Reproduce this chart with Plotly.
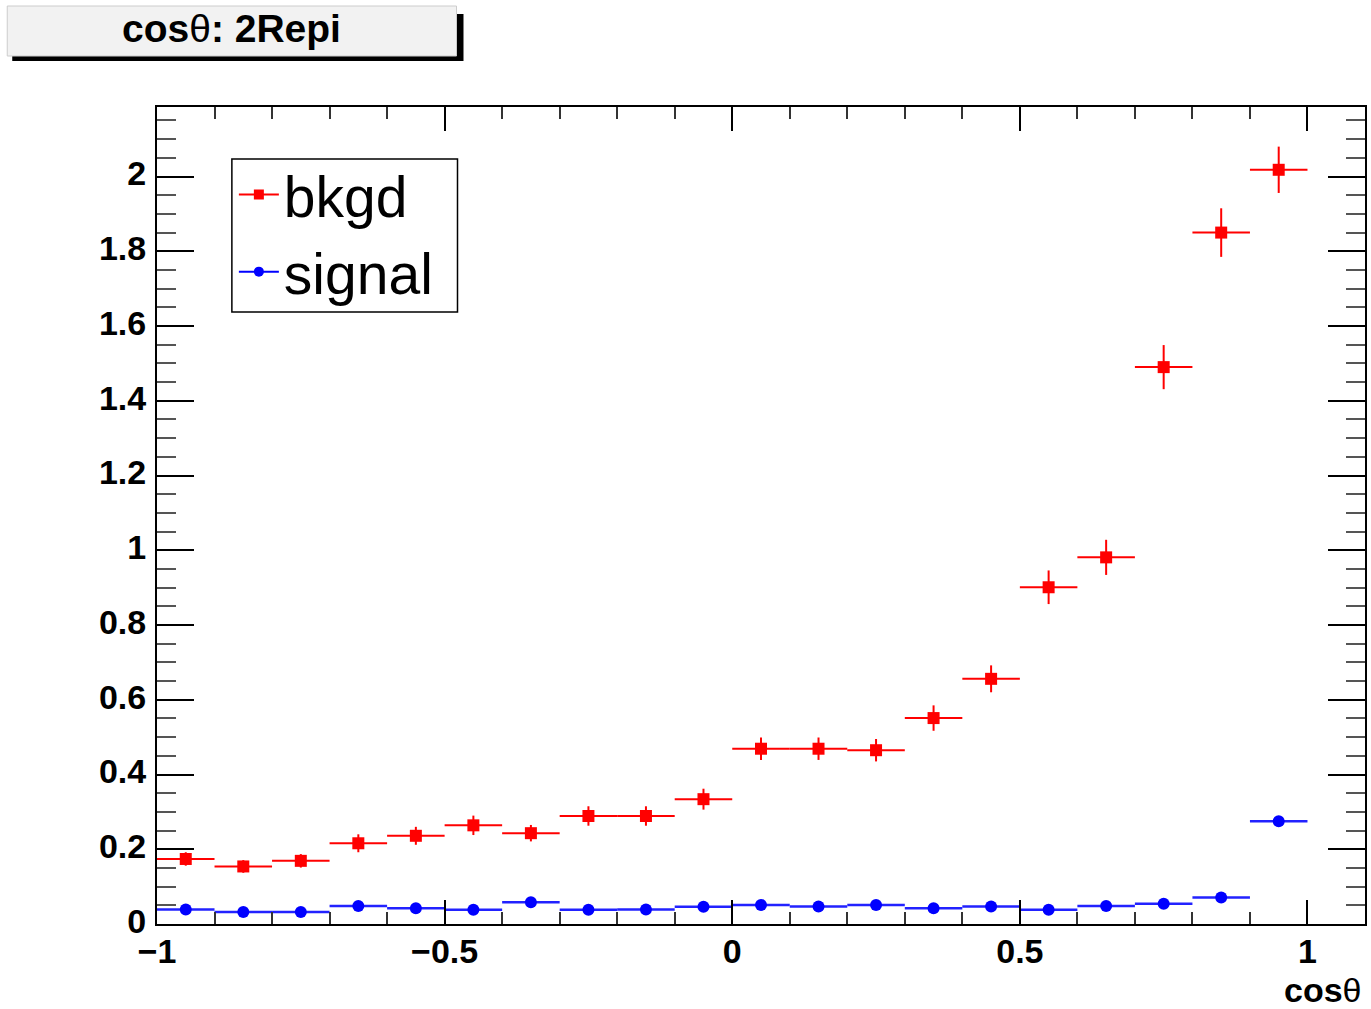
import plotly.graph_objects as go

# ---- data ----
bin_centers = [-0.95, -0.85, -0.75, -0.65, -0.55, -0.45, -0.35, -0.25, -0.15, -0.05,
               0.05, 0.15, 0.25, 0.35, 0.45, 0.55, 0.65, 0.75, 0.85, 0.95]
bin_half_width = [0.05] * 20
bkgd = [0.174, 0.154, 0.169, 0.216, 0.236, 0.264, 0.243, 0.289, 0.289, 0.334,
        0.469, 0.469, 0.465, 0.551, 0.656, 0.901, 0.981, 1.490, 1.850, 2.018]
bkgd_err = [0.018, 0.017, 0.018, 0.024, 0.024, 0.026, 0.022, 0.026, 0.026, 0.028,
            0.030, 0.030, 0.030, 0.034, 0.036, 0.045, 0.047, 0.059, 0.065, 0.062]
signal = [0.039, 0.032, 0.032, 0.048, 0.042, 0.038, 0.058, 0.038, 0.039, 0.046,
          0.051, 0.047, 0.051, 0.042, 0.047, 0.038, 0.048, 0.054, 0.071, 0.275]
signal_err = [0.005] * 19 + [0.010]
legend_names = ["bkgd", "signal"]

W, H = 1371, 1009
L, R, T, B = 157, 1367, 107, 924

def px(x):
    return (x - L) / (R - L)

def py(y):
    return (B - y) / (B - T)

FONT = "Liberation Sans"

fig = go.Figure()

fig.add_trace(go.Scatter(
    x=bin_centers, y=bkgd, mode="markers", showlegend=False,
    marker=dict(symbol="square", size=12, color="#ff0000"),
    error_x=dict(type="data", array=bin_half_width, color="#ff0000", thickness=2, width=0),
    error_y=dict(type="data", array=bkgd_err, color="#ff0000", thickness=2, width=0),
))
fig.add_trace(go.Scatter(
    x=bin_centers, y=signal, mode="markers", showlegend=False,
    marker=dict(symbol="circle", size=12, color="#0000ff"),
    error_x=dict(type="data", array=bin_half_width, color="#2222ff", thickness=2.5, width=0),
    error_y=dict(type="data", array=signal_err, color="#0000ff", thickness=2, width=0),
))
# legend entries
fig.add_trace(go.Scatter(
    x=[None], y=[None], mode="lines+markers", name=legend_names[0],
    line=dict(color="#ff0000", width=2),
    marker=dict(symbol="square", size=10, color="#ff0000"),
))
fig.add_trace(go.Scatter(
    x=[None], y=[None], mode="lines+markers", name=legend_names[1],
    line=dict(color="#0000ff", width=2),
    marker=dict(symbol="circle", size=10, color="#0000ff"),
))

axis_common = dict(
    showgrid=False, zeroline=False, showline=True, linecolor="black", linewidth=2,
    mirror="allticks", ticks="inside", tickcolor="black", tickwidth=2,
    tickfont=dict(family=FONT, size=34, color="black", weight="bold"),
)

fig.update_xaxes(
    range=[-1, 1.1], dtick=0.5, tick0=-1, ticklen=24,
    minor=dict(ticks="inside", dtick=0.1, ticklen=12, tickcolor="#333333", tickwidth=2),
    ticklabelstandoff=-4,
    **axis_common,
)
fig.update_yaxes(
    range=[0, 2.186], dtick=0.2, tick0=0, ticklen=37,
    minor=dict(ticks="inside", dtick=0.05, ticklen=19, tickcolor="#555555", tickwidth=2),
    ticklabelstandoff=2, ticklabelshift=-3,
    **axis_common,
)

shapes = [
    # title box shadow
    dict(type="rect", xref="paper", yref="paper",
         x0=px(12), x1=px(464), y0=py(61), y1=py(14),
         fillcolor="black", line=dict(width=0), layer="above"),
    # title box
    dict(type="rect", xref="paper", yref="paper",
         x0=px(7), x1=px(457), y0=py(56), y1=py(6),
         fillcolor="#f2f2f2", line=dict(width=1, color="#cccccc"), layer="above"),
    # legend frame
    dict(type="rect", xref="paper", yref="paper",
         x0=px(232), x1=px(458), y0=py(312), y1=py(159),
         fillcolor="white", line=dict(width=1.5, color="black"), layer="above"),
]

annotations = [
    dict(text="<b>cos</b>θ<b>: 2Repi</b>", xref="paper", yref="paper",
         x=px(232), y=py(28), xanchor="center", yanchor="middle", showarrow=False,
         font=dict(family=FONT, size=39, color="black")),
    dict(text="<b>cos</b>θ", xref="paper", yref="paper",
         x=px(1366), y=py(990), xanchor="right", yanchor="middle", showarrow=False,
         font=dict(family=FONT, size=34, color="black")),
]

fig.update_layout(
    width=W, height=H,
    margin=dict(l=L, r=W - R, t=T, b=H - B, pad=0),
    paper_bgcolor="white", plot_bgcolor="white",
    shapes=shapes, annotations=annotations,
    legend=dict(
        x=px(234), y=py(151), xanchor="left", yanchor="top",
        bgcolor="rgba(0,0,0,0)", borderwidth=0,
        font=dict(family=FONT, size=57, color="black"),
        itemwidth=40, tracegroupgap=0,
    ),
)

fig.write_html("out.html")
